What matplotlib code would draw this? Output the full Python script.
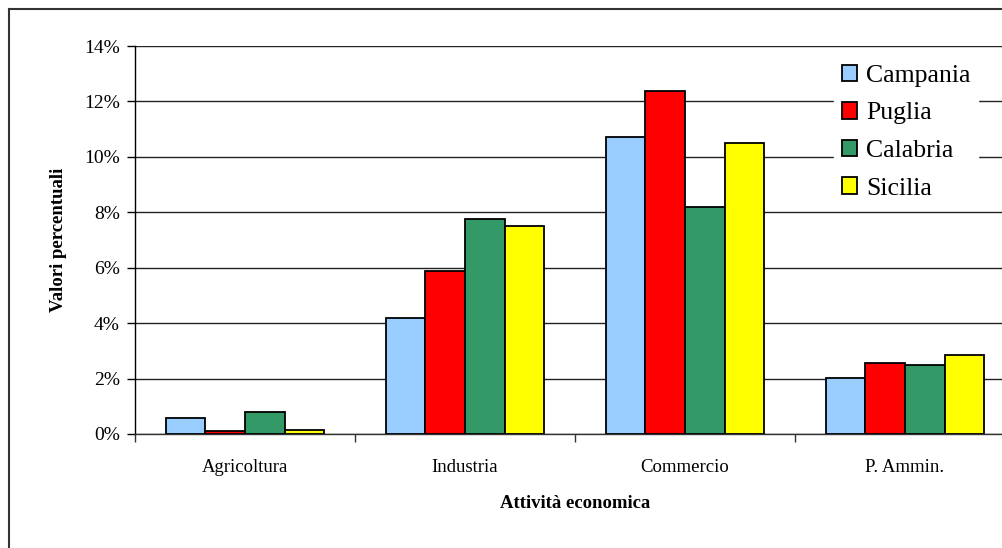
import numpy as np
import matplotlib
matplotlib.use('Agg')
from matplotlib import pyplot as plt
from matplotlib.lines import Line2D
from matplotlib.ticker import FuncFormatter

plt.rcParams['font.family'] = ['Liberation Serif', 'DejaVu Serif']

categories = ["Agricoltura", "Industria", "Commercio", "P. Ammin."]
regions = ["Campania", "Puglia", "Calabria", "Sicilia"]
campania = [0.56, 4.20, 10.72, 2.01]
puglia = [0.10, 5.87, 12.39, 2.57]
calabria = [0.80, 7.76, 8.18, 2.48]
sicilia = [0.16, 7.49, 10.50, 2.86]
colors = ["#99CCFF", "#FF0000", "#339966", "#FFFF00"]

series = [campania, puglia, calabria, sicilia]

fig = plt.figure(figsize=(10.03, 5.48), dpi=100)
W, H = 1003, 548
# plot area runs a little past the right edge of the canvas
ax = fig.add_axes([135 / W, (H - 434) / H, 880 / W, 388 / H])

x = np.arange(len(categories))
bw = 0.18
for i, (vals, name, col) in enumerate(zip(series, regions, colors)):
    ax.bar(x + (i - 1.5) * bw, vals, bw, color=col, edgecolor="black",
           linewidth=1.3, label=name, zorder=3)

ax.set_xlim(-0.5, len(categories) - 0.5)
ax.set_ylim(0, 14)
ax.set_yticks(np.arange(0, 15, 2))
ax.yaxis.set_major_formatter(FuncFormatter(lambda v, p: "%d%%" % v))
ax.grid(axis="y", color="#222222", linewidth=1.0, zorder=0)
ax.set_xticks(np.arange(-0.5, len(categories), 1.0))
ax.set_xticklabels([])
ax.set_xticks(x, minor=True)
ax.set_xticklabels(categories, minor=True, fontsize=13.5)
ax.tick_params(axis="x", which="minor", length=0, pad=18)
ax.tick_params(axis="x", which="major", length=6, width=1, color="#333333")
ax.tick_params(axis="y", length=6, width=1, labelsize=14, pad=5)

for s in ["top", "right"]:
    ax.spines[s].set_visible(False)
ax.spines["left"].set_linewidth(1.0)
ax.spines["bottom"].set_linewidth(1.0)
ax.spines["bottom"].set_color("#333333")

ax.set_ylabel("Valori percentuali", fontsize=13.5, fontweight="bold", labelpad=12)
ax.set_xlabel("Attività economica", fontsize=13.5, fontweight="bold", labelpad=14)
ax.xaxis.set_label_coords((575 - 135) / 880, -0.157)

leg = ax.legend(loc="upper left", bbox_to_anchor=(821 / W, (H - 44) / H),
                bbox_transform=fig.transFigure, fontsize=18.5, frameon=True,
                fancybox=False, edgecolor="white", facecolor="white", framealpha=1,
                handlelength=0.6, handleheight=0.6, handletextpad=0.35,
                labelspacing=0.6, borderpad=0.3)
leg.set_zorder(5)

# outer chart border
fig.add_artist(Line2D([9 / W, 9 / W], [0, (H - 9) / H], color="#333333", linewidth=1.5))
fig.add_artist(Line2D([9 / W, 1], [(H - 9) / H, (H - 9) / H], color="#333333", linewidth=1.5))

fig.savefig("out.png", dpi=100)
